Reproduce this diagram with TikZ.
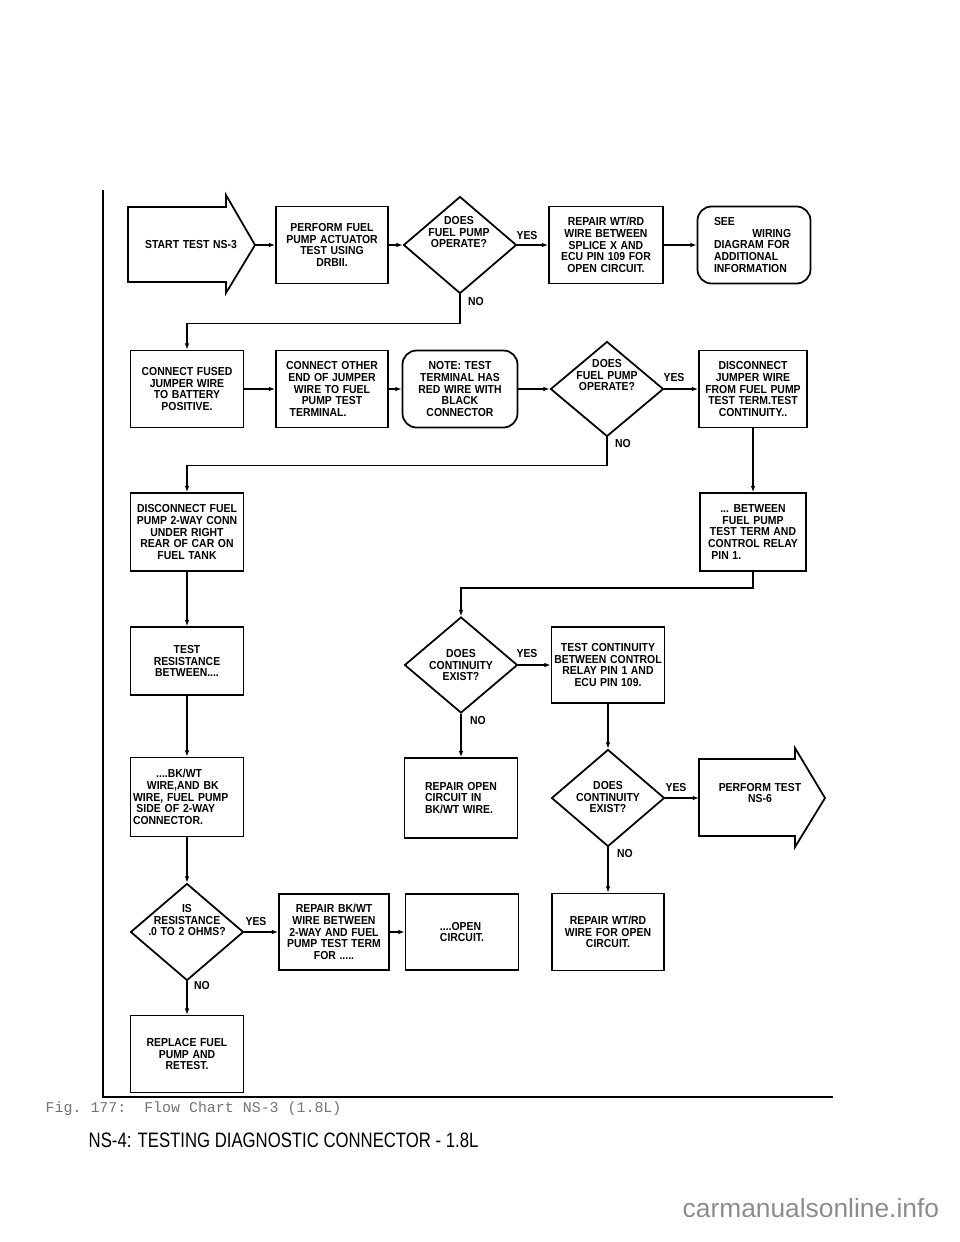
\documentclass[tikz,border=0pt]{standalone}
\usepackage{fontspec}
\usepackage{tikz}
\usetikzlibrary{shapes.geometric,arrows.meta}
\newfontfamily\chartfont[FakeStretch=0.9,WordSpace=1.25]{Liberation Sans}
\newfontfamily\headfont[FakeStretch=0.8]{Liberation Sans}
\newfontfamily\capfont{Liberation Mono}
\newfontfamily\markfont{Liberation Sans}
\newcommand{\chart}{\chartfont\bfseries\fontsize{6.6pt}{6.65pt}\selectfont}

\begin{document}
\begin{tikzpicture}[->,>={Latex[length=3.5pt,width=2.6pt]},x=0.02cm,y=-0.02cm,line width=0.8pt,
    every node/.style={font=\chart},
    box/.style={draw,rectangle,line width=1pt,minimum width=2.26cm,minimum height=1.54cm,align=center,inner sep=1pt},
    rbox/.style={box,rounded corners=0.28cm},
    decision/.style={draw,diamond,line width=1pt,minimum width=2.26cm,minimum height=1.94cm,inner sep=0pt},
    ask/.style={align=center,inner sep=0pt},
    answer/.style={inner sep=0pt}]
  \useasboundingbox (0,0) rectangle (960,1242);

  % page frame
  \draw[-,line width=0.7pt] (103,190) -- (103,1097) -- (833,1097);

  % first row
  \draw[-,line width=1pt] (128,207) -- (226,207) -- (226,195) -- (255,245)
    -- (226,293) -- (226,282) -- (128,282) -- cycle;
  \node (start) at (191,245) {START TEST NS-3};
  \coordinate (st) at (255,245);
  \node[box,minimum width=2.24cm] (b1) at (332,245) {PERFORM FUEL\\PUMP ACTUATOR\\TEST USING\\DRBII.};
  \node[decision] (d1) at (460,245) {};
  \node[ask] (d1q) at (459,232) {DOES\\FUEL PUMP\\OPERATE?};
  \node[box,minimum width=2.28cm] (b2) at (606,245) {REPAIR WT/RD\\WIRE BETWEEN\\SPLICE X AND\\ECU PIN 109 FOR\\OPEN CIRCUIT.};
  \node[rbox,text width=1.6cm,align=left] (b3) at (754,245) {SEE\\\hspace*{3.3em}WIRING\\DIAGRAM FOR\\ADDITIONAL\\INFORMATION};

  % second row
  \node[box] (b4) at (187,389) {CONNECT FUSED\\JUMPER WIRE\\TO BATTERY\\POSITIVE.};
  \node[box,minimum width=2.24cm] (b5) at (332,389) {CONNECT OTHER\\END OF JUMPER\\WIRE TO FUEL\\PUMP TEST\\TERMINAL.\hspace*{2.4em}};
  \node[rbox,minimum width=2.3cm] (b6) at (460,389) {NOTE: TEST\\TERMINAL HAS\\RED WIRE WITH\\BLACK\\CONNECTOR};
  \node[decision,minimum height=1.9cm] (d2) at (607,389) {};
  \node[ask] (d2q) at (607,375) {DOES\\FUEL PUMP\\OPERATE?};
  \node[box,minimum width=2.16cm] (b7) at (753,389) {DISCONNECT\\JUMPER WIRE\\FROM FUEL PUMP\\TEST TERM.TEST\\CONTINUITY..};

  % left column and middle
  \node[box,minimum height=1.56cm] (b8) at (187,532) {DISCONNECT FUEL\\PUMP 2-WAY CONN\\UNDER RIGHT\\REAR OF CAR ON\\FUEL TANK};
  \node[box,minimum width=2.12cm,minimum height=1.56cm] (b9) at (753,532) {... BETWEEN\\FUEL PUMP\\TEST TERM AND\\CONTROL RELAY\\PIN 1.\hspace*{4.6em}};
  \node[box,minimum height=1.36cm] (b10) at (187,661) {TEST\\RESISTANCE\\BETWEEN....};
  \node[decision,minimum height=1.92cm] (d3) at (461,665) {};
  \node[ask] (d3q) at (461,665) {DOES\\CONTINUITY\\EXIST?};
  \node[box,minimum height=1.52cm] (b11) at (608,665) {TEST CONTINUITY\\BETWEEN CONTROL\\RELAY PIN 1 AND\\ECU PIN 109.};

  \node[box,minimum height=1.58cm,text width=2.16cm,align=left] (b13) at (187,797) {\hspace*{2em}....BK/WT\\\hspace*{1.2em}WIRE,AND BK\\WIRE, FUEL PUMP\\\hspace*{0.3em}SIDE OF 2-WAY\\CONNECTOR.};
  \node[box,minimum height=1.6cm,align=left] (b12) at (461,798) {REPAIR OPEN\\CIRCUIT IN\\BK/WT WIRE.};
  \node[decision] (d5) at (608,798) {};
  \node[ask] (d5q) at (608,797) {DOES\\CONTINUITY\\EXIST?};
  \draw[-,line width=1pt] (699,759) -- (795,759) -- (795,748) -- (825,798)
    -- (795,847) -- (795,836) -- (699,836) -- cycle;
  \node[align=center] (ns6) at (760,793) {PERFORM TEST\\NS-6};
  \coordinate (ns6in) at (699,798);

  \node[decision] (d4) at (187,932) {};
  \node[ask] (d4q) at (187,920) {IS\\RESISTANCE\\.0 TO 2 OHMS?};
  \node[box,minimum width=2.2cm,minimum height=1.52cm] (b14) at (334,932) {REPAIR BK/WT\\WIRE BETWEEN\\2-WAY AND FUEL\\PUMP TEST TERM\\FOR .....};
  \node[box,minimum height=1.52cm,align=left] (b15) at (462,932) {....OPEN\\CIRCUIT.};
  \node[box,minimum width=2.24cm] (b17) at (608,932) {REPAIR WT/RD\\WIRE FOR OPEN\\CIRCUIT.};
  \node[box] (b16) at (187,1054) {REPLACE FUEL\\PUMP AND\\RETEST.};

  % answers
  \node[answer] (y1) at (527,235) {YES};
  \node[answer] (n1) at (476,301) {NO};
  \node[answer] (y2) at (674,377) {YES};
  \node[answer] (n2) at (623,443) {NO};
  \node[answer] (y3) at (527,653) {YES};
  \node[answer] (n3) at (478,720) {NO};
  \node[answer] (y4) at (256,921) {YES};
  \node[answer] (n4) at (202,985) {NO};
  \node[answer] (y5) at (676,787) {YES};
  \node[answer] (n5) at (625,853) {NO};

  % connectors
  \draw (st) -- (b1);
  \draw (b1) -- (d1);
  \draw (d1) -- (b2);
  \draw (b2) -- (b3);
  \draw (d1.south) -- ++(0,29) -| (b4.north);
  \draw (b4) -- (b5);
  \draw (b5) -- (b6);
  \draw (b6) -- (d2);
  \draw (d2) -- (b7);
  \draw (d2.south) -- ++(0,28) -| (b8.north);
  \draw (b7) -- (b9);
  \draw (b9.south) -- ++(0,16) -| (d3.north);
  \draw (b8) -- (b10);
  \draw (b10) -- (b13);
  \draw (b13) -- (d4);
  \draw (d3) -- (b11);
  \draw (d3) -- (b12);
  \draw (b11) -- (d5);
  \draw (d5) -- (ns6in);
  \draw (d5) -- (b17);
  \draw (d4) -- (b14);
  \draw (b14) -- (b15);
  \draw (d4) -- (b16);

  % captions
  \node[font=\capfont\frenchspacing\fontsize{8.5pt}{10pt}\selectfont,text=black!55,anchor=base west,inner sep=0pt] (fig) at (45,1112) {Fig. 177:\ \ Flow Chart NS-3 (1.8L)};
  \node[font=\headfont\fontsize{11.9pt}{14pt}\selectfont,anchor=base west,inner sep=0pt] (title) at (88,1147) {NS-4: TESTING DIAGNOSTIC CONNECTOR - 1.8L};
  \node[font=\markfont\fontsize{15pt}{18pt}\selectfont,text=black!45,anchor=base west,inner sep=0pt] (mark) at (682,1217) {carmanualsonline.info};
\end{tikzpicture}
\end{document}
